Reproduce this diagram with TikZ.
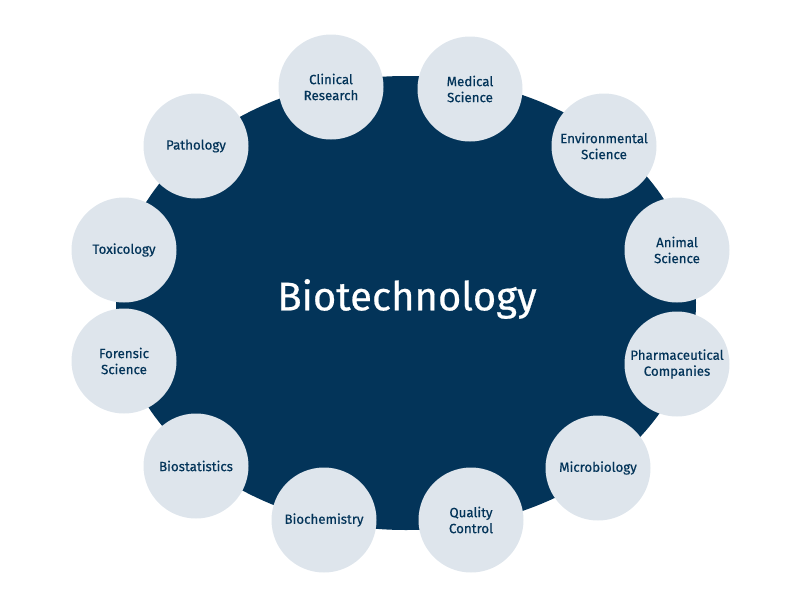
\documentclass[tikz,border=0pt]{standalone}
\usepackage{fontspec}
\setmainfont{Fira Sans}
\newfontfamily\labelfont{Fira Sans}[FakeBold=0.5]
\usepackage{tikz}
\definecolor{navy}{RGB}{3,52,89}
\definecolor{paleblue}{RGB}{222,229,236}

\begin{document}
\begin{tikzpicture}[x=0.75pt,y=0.75pt,yscale=-1,xscale=1,
  topic/.style={circle,fill=paleblue,minimum size=105*0.75pt,inner sep=0pt,
    text=navy,align=center,font=\labelfont\fontsize{10pt}{12pt}\selectfont},
  hub/.style={text=white,font=\labelfont\fontsize{30pt}{36pt}\selectfont}]
\useasboundingbox (0,0) rectangle (800,600);

%Ellipse [id:hub]
\draw [fill=navy,draw=none] (406,303) ellipse [x radius=290, y radius=227];

% Text Node
\node (biotech) at (407,299) [hub] {Biotechnology};

% Circles
\node (clinical) at (331,87) [topic] {Clinical\\Research};
\node (medical) at (470,89) [topic] {Medical\\Science};
\node (environ) at (604,146) [topic] {Environmental\\Science};
\node (animal) at (677,250) [topic] {Animal\\Science};
\node (pharma) at (677,364) [topic] {Pharmaceutical\\Companies};
\node (micro) at (598,468) [topic] {Microbiology};
\node (quality) at (471,520) [topic] {Quality\\Control};
\node (biochem) at (324,520) [topic] {Biochemistry};
\node (biostat) at (196,466) [topic] {Biostatistics};
\node (forensic) at (124,361) [topic] {Forensic\\Science};
\node (toxic) at (124,250) [topic] {Toxicology};
\node (pathology) at (196,146) [topic] {Pathology};

\end{tikzpicture}
\end{document}
